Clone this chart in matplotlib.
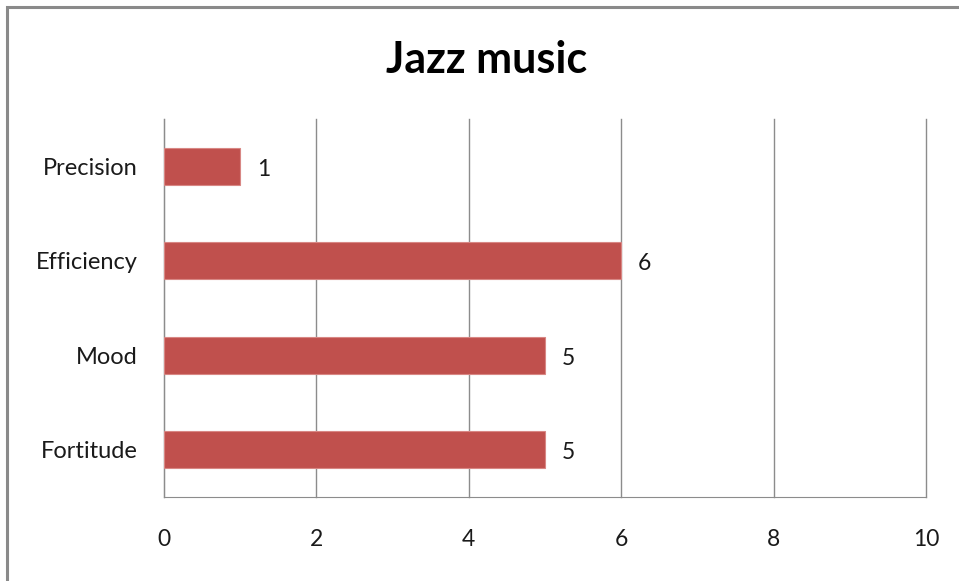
import matplotlib
matplotlib.use("Agg")
import matplotlib.pyplot as plt
from matplotlib.patches import Rectangle

# ratings for the jazz track, top to bottom
categories = ["Precision", "Efficiency", "Mood", "Fortitude"]
scores = [1, 6, 5, 5]
xticks = [0, 2, 4, 6, 8, 10]

plt.rcParams["font.family"] = ["Lato", "DejaVu Sans"]

fig = plt.figure(figsize=(9.59, 5.81), dpi=100)
ax = fig.add_axes([164 / 959, 1 - 497 / 581, (926 - 164) / 959, (497 - 119) / 581])

ypos = list(range(len(categories)))[::-1]
ax.barh(ypos, scores, height=0.39, color="#C0504D", edgecolor="#D88784", linewidth=0.8, zorder=3)

for y, v in zip(ypos, scores):
    ax.text(v + 0.22, y - 0.03, str(v), va="center", ha="left", fontsize=16.5, color="#1a1a1a")

ax.set_xlim(0, 10)
ax.set_ylim(-0.5, len(categories) - 0.5)
ax.set_xticks(xticks)
ax.set_xticklabels([str(t) for t in xticks], fontsize=16.5, color="#1a1a1a")
ax.set_yticks(ypos)
ax.set_yticklabels(categories, fontsize=17, color="#1a1a1a")
ax.tick_params(length=0, pad=19, axis="y")
ax.tick_params(length=0, pad=23, axis="x")

ax.grid(axis="x", color="#8c8c8c", linewidth=1, zorder=0)
for gl in ax.get_xgridlines():
    gl.set_clip_on(False)
for s in ["top", "right"]:
    ax.spines[s].set_visible(False)
ax.spines["left"].set_color("#8c8c8c")
ax.spines["bottom"].set_color("#8c8c8c")

fig.text(487 / 959, 1 - 60 / 581, "Jazz music", ha="center", va="center", fontsize=31, fontweight="bold")

# outer frame along the top and left edge
fig.add_artist(Rectangle((7 / 959, -0.1), 1.2, 1 - 7 / 581 + 0.1, transform=fig.transFigure,
                         fill=False, edgecolor="#8a8a8a", linewidth=2.2))

fig.savefig("out.png", dpi=100)
